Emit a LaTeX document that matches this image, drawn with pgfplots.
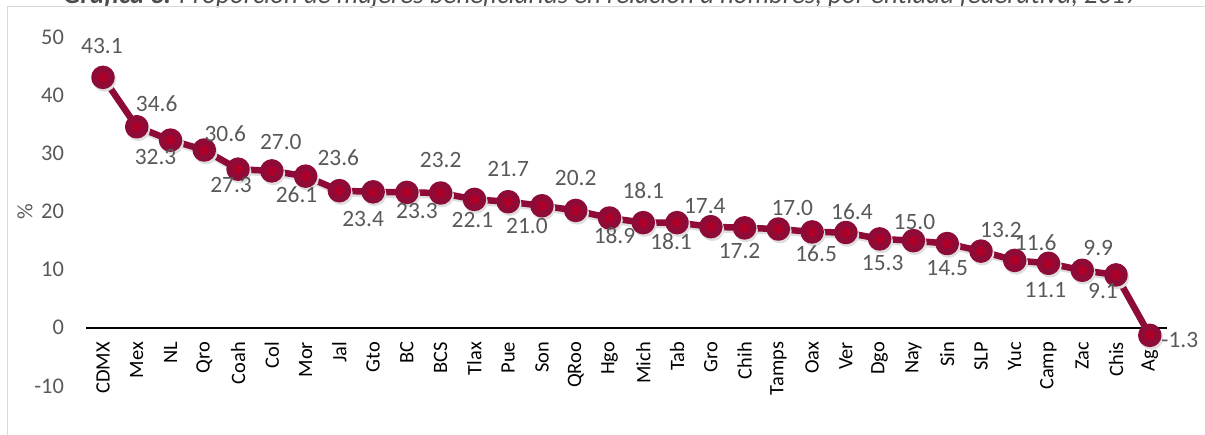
\documentclass[border=0pt]{standalone}
\usepackage{pgfplots}
\pgfplotsset{compat=1.18}
\usepackage{pgfplotstable}
\usepackage{fontspec}
\setmainfont{Carlito}
\definecolor{linecol}{HTML}{8E0B38}
\definecolor{markcol}{HTML}{AD0029}
\definecolor{ticklab}{HTML}{595959}
\definecolor{framecol}{HTML}{D9D9D9}
\definecolor{titlecol}{HTML}{4D4D4D}
\pgfplotstableread{
x y dx dy
0 43.1 -1 31
1 34.6 20 23
2 32.3 -15 -17
3 30.6 21 16
4 27.3 -7 -16
5 27.0 9 29
6 26.1 -9 -19
7 23.6 -1 33
8 23.4 -10 -27
9 23.3 10 -19
10 23.2 0 33
11 22.1 -2 -21
12 21.7 0 33
13 21.0 -15 -20
14 20.2 0 32
15 18.9 5 -18
16 18.1 0 32
17 18.1 -6 -19
18 17.4 -6 21
19 17.2 -5 -23
20 17.0 14 21
21 16.5 4 -22
22 16.4 6 21
23 15.3 3 -24
24 15.0 1 19
25 14.5 0 -25
26 13.2 20 21
27 11.6 21 18
28 11.1 -3 -27
29 9.9 16 22
30 9.1 -13 -16
31 -1.3 30 -5
}\datatable
\begin{document}
\begin{tikzpicture}[x=1bp,y=1bp]
\useasboundingbox (0,0) rectangle (1205,435);
\begin{scope}
\clip (0,0) rectangle (1205,435);
\node[anchor=base, text=titlecol, font=\fontsize{27}{31}\selectfont, inner sep=0pt] at (601.5,431)
  {\textbf{\textit{Gráfica 3.}} \textit{Proporción de mujeres beneficiarias en relación a hombres, por entidad federativa, 2017}};
\end{scope}
\draw[framecol, line width=1.5bp] (7.5,0) -- (7.5,428.5) -- (1205,428.5);
\node[rotate=90, text=ticklab, font=\fontsize{22}{26}\selectfont] at (25,223) {\%};
\begin{axis}[
  at={(86.1bp,49.1bp)}, anchor=south west,
  scale only axis, width=1080.6bp, height=348.6bp,
  xmin=-0.5, xmax=31.5, ymin=-10, ymax=50,
  axis x line=middle, axis y line=left,
  x axis line style={-, black, line width=2.4bp},
  y axis line style={draw=none},
  major tick length=0pt,
  xtick={0,...,31},
  xticklabels={CDMX,Mex,NL,Qro,Coah,Col,Mor,Jal,Gto,BC,BCS,Tlax,Pue,Son,QRoo,Hgo,Mich,Tab,Gro,Chih,Tamps,Oax,Ver,Dgo,Nay,Sin,SLP,Yuc,Camp,Zac,Chis,Ags},
  xticklabel style={rotate=90, anchor=east, inner xsep=14bp, inner ysep=0pt, font=\fontsize{20.5}{24}\selectfont, text=black},
  ytick={-10,0,...,50},
  yticklabel style={anchor=east, inner sep=0pt, xshift=-22bp, font=\fontsize{22.5}{26}\selectfont, text=ticklab},
  /pgf/number format/assume math mode=true,
  clip=false,
]
\addplot[draw=black!13, line width=6.5bp, mark=*, mark size=8.5bp,
  mark options={draw=none, fill=black!13}, xshift=1.5bp, yshift=-2.5bp, forget plot]
  table[x=x,y=y]{\datatable};
\addplot[draw=linecol, line width=6.5bp, line join=round, mark=*, mark size=8.5bp,
  mark options={draw=none, fill=markcol},
  point meta=y,
  visualization depends on={\thisrow{dx} \as \lblx},
  visualization depends on={\thisrow{dy} \as \lbly},
  nodes near coords={\pgfmathprintnumber[fixed, fixed zerofill, precision=1]{\pgfplotspointmeta}},
  nodes near coords style={anchor=center, inner sep=0pt, xshift=\lblx bp, yshift=\lbly bp,
    font=\fontsize{23.5}{27}\selectfont, text=ticklab},
] table[x=x,y=y]{\datatable};
\end{axis}
\end{tikzpicture}
\end{document}
